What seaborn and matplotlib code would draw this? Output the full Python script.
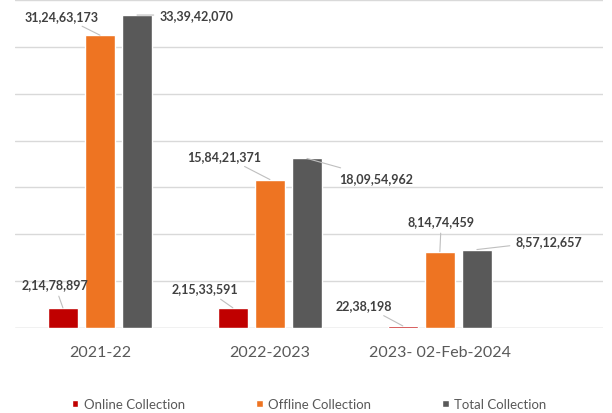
import matplotlib
matplotlib.use("Agg")
import matplotlib.pyplot as plt
import seaborn as sns
import pandas as pd

periods = ["2021-22", "2022-2023", "2023- 02-Feb-2024"]
series = ["Online Collection", "Offline Collection", "Total Collection"]
online = [21478897, 21533591, 2238198]
offline = [312463173, 158421371, 81474459]
total = [333942070, 180954962, 83712657]
value_labels = {
    "Online Collection": ["2,14,78,897", "2,15,33,591", "22,38,198"],
    "Offline Collection": ["31,24,63,173", "15,84,21,371", "8,14,74,459"],
    "Total Collection": ["33,39,42,070", "18,09,54,962", "8,57,12,657"],
}
colors = ["#C00000", "#EE7422", "#595959"]

rows = []
for name, vals in zip(series, [online, offline, total]):
    for p, v in zip(periods, vals):
        rows.append({"Period": p, "Series": name, "Amount": v})
df = pd.DataFrame(rows)

sns.set_theme(style="white")
plt.rcParams["font.family"] = ["Lato", "DejaVu Sans"]

fig = plt.figure(figsize=(6.12, 4.14), dpi=100)
ax = fig.add_axes([15 / 612, (414 - 329) / 414, (603 - 15) / 612, 328 / 414])

sns.barplot(data=df, x="Period", y="Amount", hue="Series", order=periods,
            hue_order=series, palette=colors, width=0.65, gap=0.19,
            saturation=1, errorbar=None, legend=True, ax=ax)

ax.set_ylim(0, 35e7)
ax.set_xlim(-0.5, 2.96)
ax.set_yticks([i * 5e7 for i in range(8)])
ax.set_yticklabels([])
ax.yaxis.grid(True, color="#D9D9D9", linewidth=1)
ax.set_axisbelow(True)
for s in ax.spines.values():
    s.set_visible(False)
ax.axhline(0, color="#D9D9D9", linewidth=1, zorder=0)
ax.set_xlabel("")
ax.set_ylabel("")
ax.tick_params(axis="x", length=0, pad=12, labelsize=11.5, labelcolor="#595959")
ax.tick_params(axis="y", length=0)

# data callouts: (series, period index) -> text offset in points
offsets = {
    ("Online Collection", 0): (-6, 17),
    ("Offline Collection", 0): (-28, 14),
    ("Total Collection", 0): (43, 0),
    ("Online Collection", 1): (-20, 14),
    ("Offline Collection", 1): (-33, 17),
    ("Total Collection", 1): (50, -14),
    ("Online Collection", 2): (-28, 15),
    ("Offline Collection", 2): (1, 22),
    ("Total Collection", 2): (52, 6),
}
dodge_pos = {"Online Collection": -0.218, "Offline Collection": 0.0, "Total Collection": 0.218}
data_map = dict(zip(series, [online, offline, total]))
for (name, i), (dx, dy) in offsets.items():
    x = i + dodge_pos[name]
    y = data_map[name][i]
    ax.annotate(value_labels[name][i], xy=(x, y), xytext=(dx, dy),
                textcoords="offset points", ha="center", va="center",
                fontsize=9, fontweight="bold", color="#404040",
                arrowprops=dict(arrowstyle="-", color="#BFBFBF", lw=0.8,
                                shrinkA=2, shrinkB=0),
                annotation_clip=False)

leg = ax.legend(loc="center", bbox_to_anchor=(0.5, (405 - 329) / -328), ncol=3,
                frameon=False, fontsize=9.5, handlelength=0.5, handleheight=0.5,
                handletextpad=0.4, columnspacing=5.4)
for t in leg.get_texts():
    t.set_color("#595959")

fig.savefig("out.png", dpi=100)
